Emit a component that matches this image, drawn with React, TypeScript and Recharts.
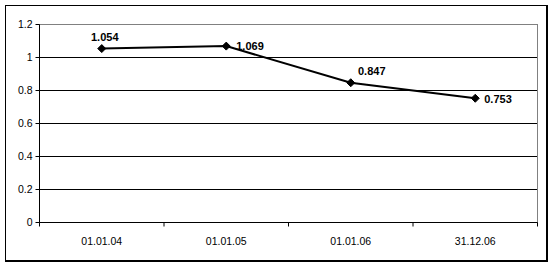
import React from 'react';
import { LineChart, Line, XAxis, YAxis, CartesianGrid, ReferenceLine, LabelList } from 'recharts';

const categories = ['01.01.04', '01.01.05', '01.01.06', '31.12.06'];
const values = [1.054, 1.069, 0.847, 0.753];
const valueLabels = ['1.054', '1.069', '0.847', '0.753'];
const yTicks = [0, 0.2, 0.4, 0.6, 0.8, 1, 1.2];

const font = 'Arial, "Liberation Sans", sans-serif';

// where each data label sits relative to its point (Excel put them a bit oddly)
const labelPlacement: { dx: number; dy: number; anchor: 'middle' | 'start' }[] = [
  { dx: 3, dy: -12, anchor: 'middle' },
  { dx: 10, dy: 0, anchor: 'start' },
  { dx: 21, dy: -12, anchor: 'middle' },
  { dx: 9, dy: 1, anchor: 'start' },
];

const data = categories.map((c, i) => ({ x: i + 0.5, name: c, value: values[i] }));
// boundaries get tick marks, band centres get the category labels
const xTicks = Array.from({ length: categories.length * 2 + 1 }, (_, k) => k / 2);

const XTick = (props: any) => {
  const { x, y, payload } = props;
  const v = payload.value;
  if (Number.isInteger(v)) {
    return <line x1={x} y1={y} x2={x} y2={y + 4} stroke="#000" />;
  }
  return (
    <text x={x} y={y + 22.5} textAnchor="middle" fontSize={10.5} fontFamily={font} fill="#000">
      {categories[Math.floor(v)]}
    </text>
  );
};

const Diamond = (props: any) => {
  const { cx, cy } = props;
  if (cx == null || cy == null) return null;
  const r = 4;
  return (
    <polygon
      points={`${cx},${cy - r} ${cx + r},${cy} ${cx},${cy + r} ${cx - r},${cy}`}
      fill="#000"
      stroke="#000"
    />
  );
};

const ValueLabel = (props: any) => {
  const { x, y, index } = props;
  const p = labelPlacement[index];
  return (
    <text
      x={x + p.dx}
      y={y + p.dy + 4}
      textAnchor={p.anchor}
      fontSize={11}
      fontWeight="bold"
      fontFamily={font}
      fill="#000"
    >
      {valueLabels[index]}
    </text>
  );
};

export default function App() {
  return (
    <div style={{ position: 'absolute', left: 0, top: 0, width: 554, height: 267, background: '#fff', fontFamily: font }}>
      <div
        style={{
          position: 'absolute',
          left: 5,
          top: 5,
          width: 543,
          height: 257,
          boxSizing: 'border-box',
          borderLeft: '1px solid #000',
          borderTop: '1px solid #000',
          borderRight: '2px solid #000',
          borderBottom: '2px solid #000',
        }}
      />
      <div style={{ position: 'absolute', left: 0, top: 0 }}>
        {/* half-pixel margins keep the 1px grid and axis lines crisp */}
        <LineChart width={554} height={267} data={data} margin={{ top: 24.5, right: 16.5, left: 0.5, bottom: 14.5 }}>
          <CartesianGrid vertical={false} stroke="#000" />
          <XAxis
            dataKey="x"
            type="number"
            domain={[0, categories.length]}
            ticks={xTicks}
            interval={0}
            height={30}
            tickSize={0}
            tickMargin={0}
            tickLine={false}
            axisLine={{ stroke: '#000' }}
            tick={<XTick />}
          />
          <YAxis
            type="number"
            domain={[0, 1.2]}
            ticks={yTicks}
            interval={0}
            width={39}
            tickSize={4}
            tickMargin={3}
            axisLine={{ stroke: '#000' }}
            tickLine={{ stroke: '#000' }}
            tick={{ fill: '#000', fontSize: 10.5, fontFamily: font }}
          />
          <ReferenceLine y={1.2} stroke="#808080" />
          <ReferenceLine x={categories.length} stroke="#808080" />
          <Line
            dataKey="value"
            stroke="#000"
            strokeWidth={2}
            dot={<Diamond />}
            activeDot={false}
            isAnimationActive={false}
          >
            <LabelList dataKey="value" content={<ValueLabel />} />
          </Line>
        </LineChart>
      </div>
    </div>
  );
}
